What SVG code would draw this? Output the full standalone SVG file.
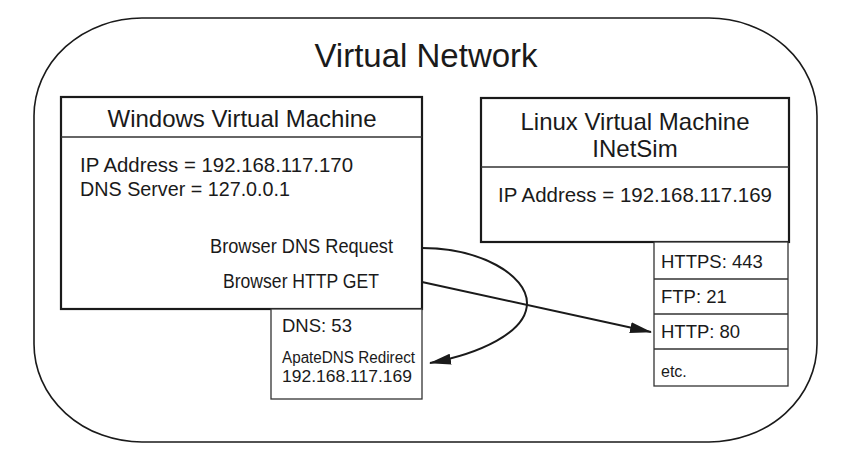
<svg xmlns="http://www.w3.org/2000/svg" width="852" height="458" viewBox="0 0 852 458">
  <style>
    text { font-family: "Liberation Sans", Arial, sans-serif; fill: #1a1a1a; }
    .title { font-size: 33px; }
    .head { font-size: 24px; }
    .body { font-size: 19.5px; }
    .port { font-size: 18.5px; }
    .small { font-size: 16px; }
    .vm { fill: #fff; stroke: #1a1a1a; stroke-width: 2.2; }
    .cell { fill: #fff; stroke: #333; stroke-width: 1.3; }
    .div { stroke: #333; stroke-width: 1.3; }
    .conn { fill: none; stroke: #1a1a1a; stroke-width: 2; }
  </style>
  <defs>
    <marker id="arrow" viewBox="0 0 22 11" refX="21" refY="5.5" markerWidth="22" markerHeight="11" markerUnits="userSpaceOnUse" orient="auto">
      <path d="M0,0 L22,5.5 L0,11 z" fill="#1a1a1a"/>
    </marker>
  </defs>
  <rect x="0" y="0" width="852" height="458" fill="#fff"/>

  <g id="virtual-network">
    <rect x="34" y="18" width="783" height="424" rx="108" ry="98" fill="none" stroke="#1a1a1a" stroke-width="1.6"/>
    <text class="title" x="426" y="67" text-anchor="middle">Virtual Network</text>
  </g>

  <g id="windows-vm">
    <rect class="vm" x="61" y="97" width="361" height="212"/>
    <line class="div" x1="61" y1="137" x2="422" y2="137"/>
    <text class="head" x="242" y="127" text-anchor="middle">Windows Virtual Machine</text>
    <text class="body" x="80" y="172" textLength="273" lengthAdjust="spacingAndGlyphs">IP Address = 192.168.117.170</text>
    <text class="body" x="80" y="196" textLength="210" lengthAdjust="spacingAndGlyphs">DNS Server = 127.0.0.1</text>
    <text class="body" x="210" y="253" textLength="183" lengthAdjust="spacingAndGlyphs">Browser DNS Request</text>
    <text class="body" x="223" y="288" textLength="156" lengthAdjust="spacingAndGlyphs">Browser HTTP GET</text>
  </g>

  <g id="dns-service">
    <rect class="cell" x="271" y="309" width="151" height="90"/>
    <text class="port" x="282" y="332">DNS: 53</text>
    <text class="small" x="282" y="363" textLength="133" lengthAdjust="spacingAndGlyphs">ApateDNS Redirect</text>
    <text class="small" x="282" y="382" textLength="130" lengthAdjust="spacingAndGlyphs">192.168.117.169</text>
  </g>

  <g id="linux-vm">
    <rect class="vm" x="481" y="98" width="308" height="144"/>
    <line class="div" x1="481" y1="167" x2="789" y2="167"/>
    <text class="head" x="635" y="130" text-anchor="middle">Linux Virtual Machine</text>
    <text class="head" x="635" y="157" text-anchor="middle">INetSim</text>
    <text class="body" x="498" y="202" textLength="274" lengthAdjust="spacingAndGlyphs">IP Address = 192.168.117.169</text>
  </g>

  <g id="inetsim-ports">
    <rect class="cell" x="654" y="242" width="134" height="144"/>
    <line class="div" x1="654" y1="279" x2="788" y2="279"/>
    <line class="div" x1="654" y1="314" x2="788" y2="314"/>
    <line class="div" x1="654" y1="349" x2="788" y2="349"/>
    <text class="port" x="661" y="268">HTTPS: 443</text>
    <text class="port" x="661" y="303">FTP: 21</text>
    <text class="port" x="661" y="338">HTTP: 80</text>
    <text class="small" x="661" y="377" font-size="17">etc.</text>
  </g>

  <g id="connectors">
    <path class="conn" d="M422,248 C480,248 527,275 527,303 C527,333 478,354 430,363" marker-end="url(#arrow)"/>
    <path class="conn" d="M422,282 L651,332" marker-end="url(#arrow)"/>
  </g>
</svg>
